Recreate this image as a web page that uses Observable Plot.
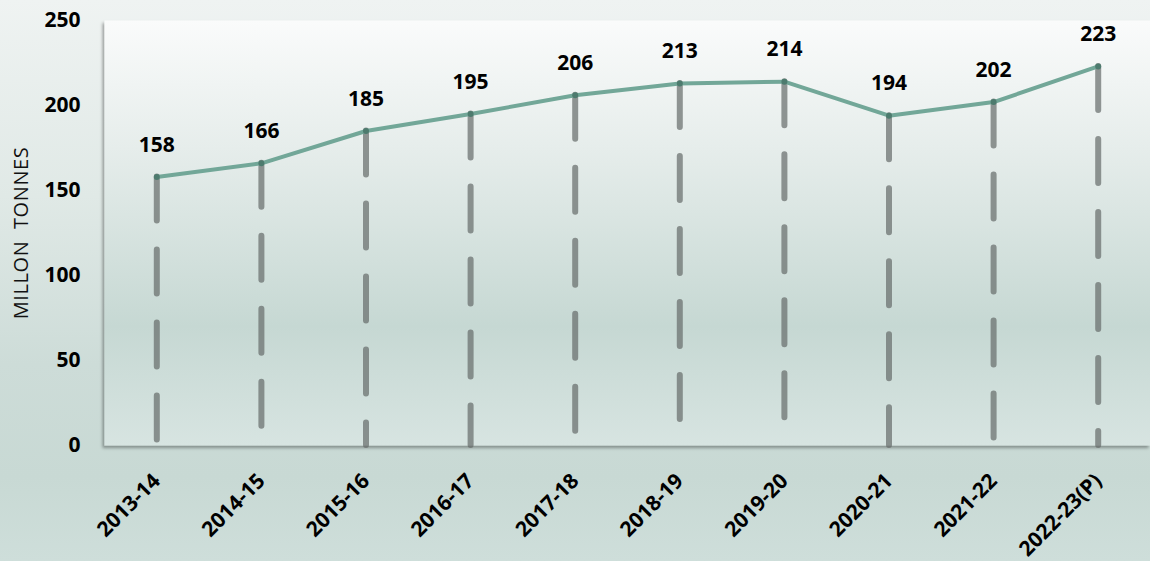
<!DOCTYPE html>
<html><head><meta charset="utf-8">
<script src="https://cdn.jsdelivr.net/npm/d3@7"></script>
<script src="https://cdn.jsdelivr.net/npm/@observablehq/plot@0.6"></script>
<style>
html,body{margin:0;padding:0;}
body{width:1150px;height:561px;overflow:hidden;background:linear-gradient(to bottom,#eff3f2 0%,#e0e9e6 35%,#cddcd8 65%,#c8d9d4 85%,#cedeDA 100%);}
</style></head><body><div id="chart"></div>
<script>
const years = ["2013-14","2014-15","2015-16","2016-17","2017-18","2018-19","2019-20","2020-21","2021-22","2022-23(P)"];
const production = [158,166,185,195,206,213,214,194,202,223];
const yTicks = [0,50,100,150,200,250];
const yTitle = "MILLON\u00a0 TONNES";

const data = years.map((year,i)=>({year, value: production[i]}));

const chart = Plot.plot({
  width:1150, height:561,
  marginLeft:104, marginRight:0, marginTop:20, marginBottom:116,
  style:{background:"transparent", fontFamily:"'Open Sans', sans-serif", color:"#000"},
  x:{type:"point", domain:years, padding:0.5, round:false},
  y:{domain:[0,250]},
  marks:[
    Plot.frame({fill:"url(#plotBg)", stroke:"none"}),
    Plot.ruleX(data,{x:"year", y1:"value", y2:0, stroke:"#656b69", strokeOpacity:0.7, strokeWidth:6, strokeDasharray:"44,29", strokeLinecap:"round"}),
    Plot.line(data,{x:"year", y:"value", stroke:"#72a798", strokeWidth:4}),
    Plot.dot(data,{x:"year", y:"value", r:3, fill:"#4d7b6e"}),
    Plot.text(data,{x:"year", y:"value", text:d=>String(d.value), dy:-32, fontSize:21, fontWeight:"bold", fill:"#000"}),
    Plot.axisY({ticks:yTicks, tickSize:0, tickPadding:24, fontSize:21, fontWeight:"bold", label:null}),
    Plot.axisX({tickSize:0, tickRotate:-45, tickPadding:32, fontSize:21, fontWeight:"bold", label:null}),
    Plot.text([yTitle],{frameAnchor:"left", text:d=>d, rotate:-90, dx:-83, textAnchor:"middle", fontSize:20, fill:"#111", className:"ytitle"})
  ]
});

const svg = d3.select(chart);
svg.insert("defs", ":first-child").html(`
  <linearGradient id="plotBg" x1="0" y1="0" x2="0" y2="1">
    <stop offset="0" stop-color="#fafbfb"/>
    <stop offset="0.3" stop-color="#e6edeb"/>
    <stop offset="0.72" stop-color="#c6d8d3"/>
    <stop offset="1" stop-color="#d7e4e1"/>
  </linearGradient>
  <filter id="shadow" x="-5%" y="-5%" width="110%" height="115%">
    <feDropShadow dx="-2" dy="2.5" stdDeviation="1.6" flood-color="#000" flood-opacity="0.35"/>
  </filter>`);
svg.select("[aria-label=frame]").attr("filter","url(#shadow)");
svg.selectAll("text").filter(function(){ return this.textContent === yTitle; }).style("letter-spacing","0.6px");
document.getElementById("chart").appendChild(chart);
</script>
</body></html>
